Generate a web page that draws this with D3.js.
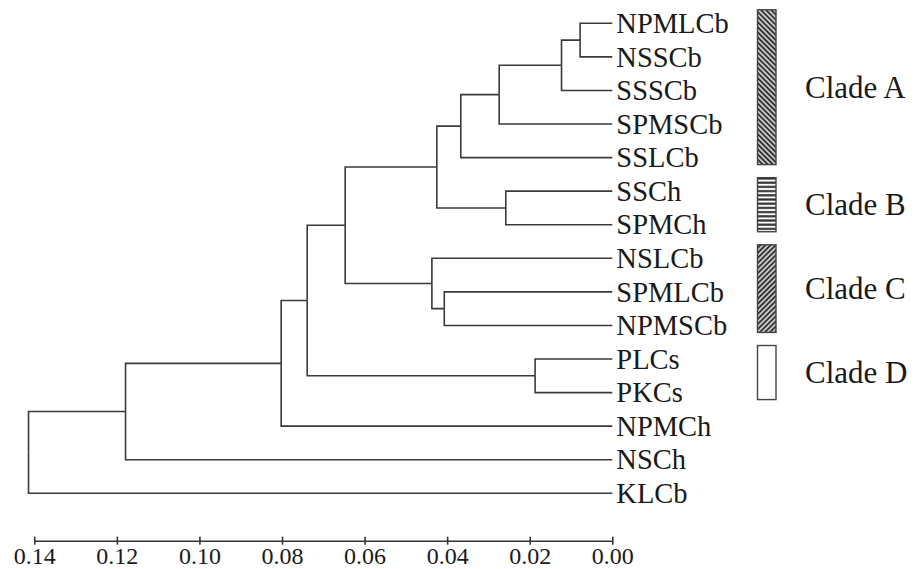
<!DOCTYPE html>
<html><head><meta charset="utf-8">
<script src="https://cdn.jsdelivr.net/npm/d3@7"></script>
<style>
html,body{margin:0;padding:0;background:#fff}
svg{display:block}
svg text{font-family:"Liberation Serif","Times New Roman",Times,"DejaVu Serif",serif;}
</style>
</head><body>
<svg id="chart" width="923" height="569"></svg>
<script>
// ---- data ----
const leaves = ["NPMLCb","NSSCb","SSSCb","SPMSCb","SSLCb","SSCh","SPMCh","NSLCb","SPMLCb","NPMSCb","PLCs","PKCs","NPMCh","NSCh","KLCb"];
// merges: left child, right child (leaf name or "m#"), height
const mergeLeft   = ["NPMLCb","m0","m1","m2","SSCh","m3","SPMLCb","NSLCb","m5","PLCs","m8","m10","m11","m12"];
const mergeRight  = ["NSSCb","SSSCb","SPMSCb","SSLCb","SPMCh","m4","NPMSCb","m6","m7","PKCs","m9","NPMCh","NSCh","KLCb"];
const mergeHeight = [0.0078,0.0123,0.0274,0.0367,0.0258,0.0425,0.0407,0.0437,0.0647,0.0187,0.0739,0.0802,0.1179,0.1414];
const tickValues = [0.14,0.12,0.10,0.08,0.06,0.04,0.02,0.00];
const cladeNames = ["Clade A","Clade B","Clade C","Clade D"];
const cladeFirst = ["NPMLCb","SSCh","NSLCb","PLCs"];
const cladeLast  = ["SSLCb","SPMCh","NPMSCb","PKCs"];
const cladeFill  = ["patA","patB","patC","none"];

// ---- build hierarchy ----
const nodeMap = {};
leaves.forEach(n => nodeMap[n] = {name:n, h:0});
mergeHeight.forEach((h,i) => {
  nodeMap["m"+i] = {name:"m"+i, h:h, children:[nodeMap[mergeLeft[i]], nodeMap[mergeRight[i]]]};
});
const root = d3.hierarchy(nodeMap["m"+(mergeHeight.length-1)]);

const svg = d3.select("#chart");
const x = d3.scaleLinear().domain([0.14,0]).range([34.3,612.3]);
const y = d3.scalePoint().domain(leaves).range([23.3,493.3]);

root.eachAfter(n => {
  n.py = n.children ? (n.children[0].py + n.children[1].py)/2 : y(n.data.name);
});

// patterns
const defs = svg.append("defs");
function stripe(id, w, angle, sw){
  const p = defs.append("pattern").attr("id",id).attr("patternUnits","userSpaceOnUse")
    .attr("width",w).attr("height",w).attr("patternTransform",`rotate(${angle})`);
  p.append("rect").attr("width",w).attr("height",w).attr("fill","#fff");
  p.append("line").attr("x1",w/2).attr("x2",w/2).attr("y1",0).attr("y2",w)
    .attr("stroke","#333").attr("stroke-width",sw);
}
stripe("patA",3.6,-45,2.3);
stripe("patC",3.6,45,2.3);
stripe("patB",4.2,90,2.2);

// links
const g = svg.append("g");
g.selectAll("path.link").data(root.links()).join("path")
  .attr("class","link")
  .attr("fill","none").attr("stroke","#3a3a3a").attr("stroke-width",1.6)
  .attr("d", l => `M${x(l.source.data.h)},${l.source.py}V${l.target.py}H${x(l.target.data.h)}`);

// leaf labels
g.selectAll("text.leaf").data(root.leaves()).join("text")
  .attr("class","leaf")
  .attr("x", d => x(0)+4)
  .attr("y", d => d.py)
  .attr("dy","0.34em")
  .attr("font-size",28.5)
  .attr("fill","#1a1a1a")
  .text(d => d.data.name);

// axis
const axis = d3.axisBottom(x).tickValues(tickValues).tickFormat(d3.format(".2f")).tickSizeInner(4).tickSizeOuter(0);
const ax = svg.append("g").attr("transform","translate(0,540.7)").call(axis);
ax.attr("font-family",null).attr("font-size",null);
ax.select(".domain").attr("stroke","#333").attr("stroke-width",1.6);
ax.selectAll(".tick line").attr("y1",-4).attr("y2",4).attr("stroke","#333").attr("stroke-width",1.6);
ax.selectAll(".tick text").attr("y",23.5).attr("dy",0)
  .attr("font-size",24).attr("fill","#1a1a1a");

// clade bars
const cl = svg.append("g");
cladeNames.forEach((c,i) => {
  const y0 = y(cladeFirst[i]) - 13.5, y1 = y(cladeLast[i]) + 7;
  cl.append("rect").attr("x",757.5).attr("y",y0).attr("width",18.5).attr("height",y1-y0)
    .attr("fill", cladeFill[i]==="none" ? "#fff" : `url(#${cladeFill[i]})`)
    .attr("stroke","#444").attr("stroke-width",1.4);
  cl.append("text").attr("x",805).attr("y",(y0+y1)/2).attr("dy","0.34em")
    .attr("font-size",31).attr("fill","#1a1a1a").text(c);
});
</script>
</body></html>
